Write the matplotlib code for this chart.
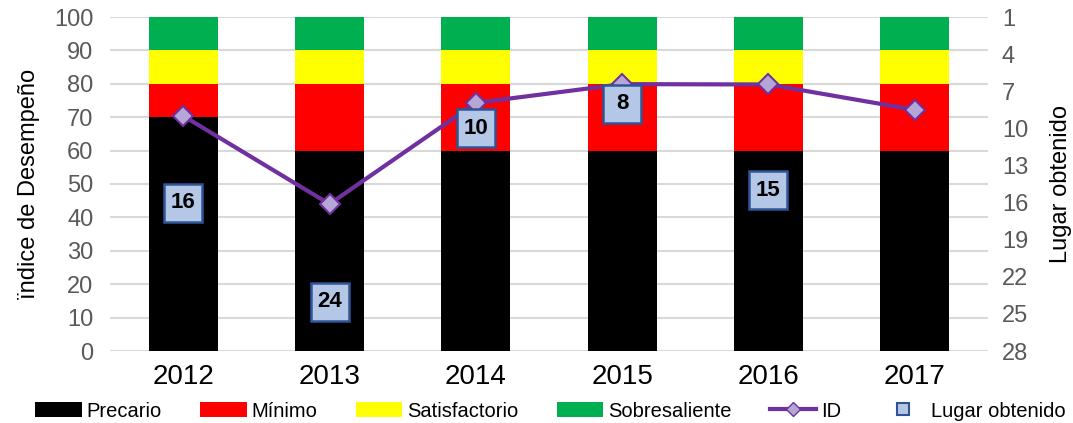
import matplotlib
matplotlib.use("Agg")
import matplotlib.pyplot as plt
from matplotlib.lines import Line2D
from matplotlib.patches import Patch

years = ["2012", "2013", "2014", "2015", "2016", "2017"]
precario = [70, 60, 60, 60, 60, 60]
minimo = [10, 20, 20, 20, 20, 20]
satisfactorio = [10, 10, 10, 10, 10, 10]
sobresaliente = [10, 10, 10, 10, 10, 10]
id_values = [70.4, 44.0, 74.3, 79.9, 79.8, 72.2]
lugar = [16, 24, 10, 8, 15, None]

plt.rcParams['font.family'] = ['Liberation Sans', 'DejaVu Sans']

fig = plt.figure(figsize=(10.73, 4.23), dpi=100)
ax = fig.add_axes([110/1073, 1 - 351/423, 878/1073, 334/423])
ax2 = ax.twinx()

x = list(range(len(years)))
w = 0.47
bottom = [0]*len(years)
colors = ["#000000", "#ff0000", "#ffff00", "#00b050"]
names = ["Precario", "Mínimo", "Satisfactorio", "Sobresaliente"]
for vals, c in zip([precario, minimo, satisfactorio, sobresaliente], colors):
    ax.bar(x, vals, w, bottom=bottom, color=c, zorder=2)
    bottom = [b + v for b, v in zip(bottom, vals)]

ax.plot(x, id_values, color="#7030a0", lw=3, marker="D", markersize=10,
        markerfacecolor="#b4a7d6", markeredgecolor="#7030a0", markeredgewidth=1.5, zorder=5)

ax.set_ylim(0, 100)
ax.set_xlim(-0.5, len(years) - 0.5)
ax.set_yticks(range(0, 101, 10))
ax.grid(axis='y', color="#d9d9d9", lw=1.5, zorder=0)
ax.set_axisbelow(True)
for s in ax.spines.values():
    s.set_visible(False)
for s in ax2.spines.values():
    s.set_visible(False)
ax.tick_params(axis='y', length=0, labelsize=17, labelcolor="#595959", pad=12)
ax.tick_params(axis='x', length=0, labelsize=20, pad=9)
ax.set_xticks(x)
ax.set_xticklabels(years)
ax.set_ylabel("ïndice de Desempeño", fontsize=17, labelpad=10)

ax2.set_ylim(28, 1)
ax2.set_yticks(range(1, 29, 3))
ax2.tick_params(axis='y', length=0, labelsize=17, labelcolor="#595959", pad=10)
ax2.set_ylabel("Lugar obtenido", fontsize=17, labelpad=16)

lx = [xi for xi, l in zip(x, lugar) if l is not None]
ly = [l for l in lugar if l is not None]
ax2.plot(lx, ly, lw=0, marker='s', markersize=27, markerfacecolor='#b4c7e7',
         markeredgecolor='#2f5597', markeredgewidth=1.8, zorder=9)
for xi, l in zip(lx, ly):
    ax2.text(xi, l, str(l), ha='center', va='center', fontsize=16, fontweight='bold',
             color='black', zorder=10)

handles = [Patch(facecolor=c, edgecolor='none') for c in colors]
handles.append(Line2D([0], [0], color="#7030a0", lw=3, marker="D", markersize=7,
                      markerfacecolor="#b4a7d6", markeredgecolor="#7030a0"))
handles.append(Line2D([0], [0], lw=0, marker="s", markersize=9,
                      markerfacecolor="#b4c7e7", markeredgecolor="#2f5597", markeredgewidth=1.5))
labels = names + ["ID", "Lugar obtenido"]
fig.legend(handles, labels, loc='center', bbox_to_anchor=(0.513, 1 - 411/423),
           ncol=6, frameon=False, fontsize=14.5, handlelength=2.3, handleheight=0.75,
           columnspacing=1.9, handletextpad=0.25)

fig.savefig("out.png", dpi=100)
